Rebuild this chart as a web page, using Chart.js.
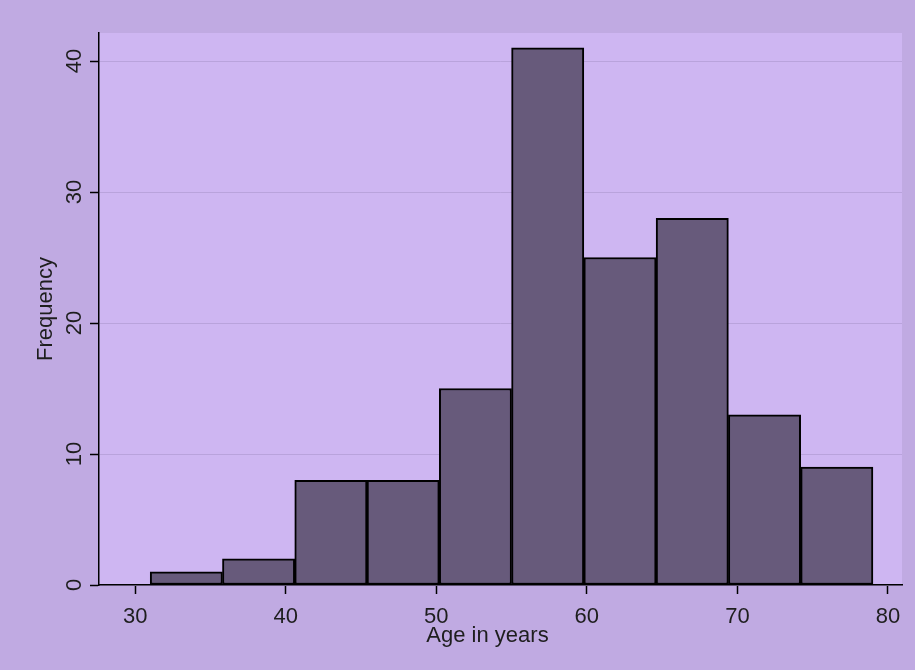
<!DOCTYPE html>
<html lang="en">
<head>
    <meta charset="UTF-8">
    <title>Age histogram</title>
    <script src="https://cdn.jsdelivr.net/npm/chart.js"></script>
    <style>
        * { margin: 0; padding: 0; box-sizing: border-box; }
        body { background: #c0aae2; width: 915px; height: 670px; overflow: hidden; }
        #wrap { width: 915px; height: 670px; }
    </style>
</head>
<body>
    <div id="wrap"><canvas id="hist" width="915" height="670"></canvas></div>

    <script>
        // bin starts (years), bin width and counts
        const binStarts = [31, 35.8, 40.6, 45.4, 50.2, 55, 59.8, 64.6, 69.4, 74.2];
        const binWidth = 4.8;
        const frequencies = [1, 2, 8, 8, 15, 41, 25, 28, 13, 9];
        const xTicks = [30, 40, 50, 60, 70, 80];
        const yTicks = [0, 10, 20, 30, 40];
        const xTitle = 'Age in years';
        const yTitle = 'Frequency';

        const FONT = '22px "Liberation Sans", Arial, sans-serif';
        const TEXT = '#1e1e1e';

        const points = binStarts.map((s, i) => ({ x: s + binWidth / 2, y: frequencies[i] }));

        // backgrounds + all axis text
        const stataLook = {
            id: 'stataLook',
            beforeDraw(chart) {
                const { ctx, chartArea: a } = chart;
                ctx.save();
                ctx.fillStyle = '#c0aae2';
                ctx.fillRect(0, 0, chart.width, chart.height);
                ctx.fillStyle = '#ceb6f2';
                ctx.fillRect(a.left, a.top, a.right - a.left, a.bottom - a.top);
                ctx.restore();
            },
            afterDraw(chart) {
                const { ctx, chartArea: a } = chart;
                const xs = chart.scales.x, ys = chart.scales.y;
                ctx.save();
                ctx.font = FONT;
                ctx.fillStyle = TEXT;
                ctx.textBaseline = 'alphabetic';
                ctx.textAlign = 'center';
                xTicks.forEach(v => ctx.fillText(String(v), xs.getPixelForValue(v), a.bottom + 38));
                ctx.fillText(xTitle, (a.left + a.right) / 2 - 13, a.bottom + 57);
                yTicks.forEach(v => {
                    ctx.save();
                    ctx.translate(a.left - 18, ys.getPixelForValue(v));
                    ctx.rotate(-Math.PI / 2);
                    ctx.fillText(String(v), 0, 0);
                    ctx.restore();
                });
                ctx.translate(a.left - 47, (a.top + a.bottom) / 2);
                ctx.rotate(-Math.PI / 2);
                ctx.fillText(yTitle, 0, 0);
                ctx.restore();
            }
        };

        new Chart(document.getElementById('hist'), {
            type: 'bar',
            data: {
                datasets: [{
                    data: points,
                    backgroundColor: '#675a7b',
                    borderColor: '#000000',
                    borderWidth: 2,
                    borderSkipped: false,
                    barPercentage: 1,
                    categoryPercentage: 1
                }]
            },
            options: {
                responsive: false,
                animation: false,
                layout: { padding: { top: 33, right: 13, left: 0, bottom: 0 } },
                plugins: { legend: { display: false }, tooltip: { enabled: false } },
                scales: {
                    x: {
                        type: 'linear',
                        bounds: 'data',
                        min: 27.6,
                        max: 80.93,
                        offset: false,
                        ticks: { display: false },
                        afterBuildTicks(scale) { scale.ticks = xTicks.map(v => ({ value: v })); },
                        grid: { offset: false, drawOnChartArea: false, drawTicks: true, tickLength: 9, tickColor: '#000', tickWidth: 1.5 },
                        border: { color: '#000', width: 1.5 },
                        afterFit(scale) { scale.height = 85; }
                    },
                    y: {
                        type: 'linear',
                        bounds: 'data',
                        min: 0,
                        max: 42.14,
                        ticks: { display: false },
                        afterBuildTicks(scale) { scale.ticks = yTicks.map(v => ({ value: v })); },
                        grid: { color: '#b9a3dc', lineWidth: 1, drawTicks: true, tickLength: 9, tickColor: '#000', tickWidth: 1.5 },
                        border: { color: '#000', width: 1.5 },
                        afterFit(scale) { scale.width = 99; }
                    }
                }
            },
            plugins: [stataLook]
        });
    </script>
</body>
</html>
